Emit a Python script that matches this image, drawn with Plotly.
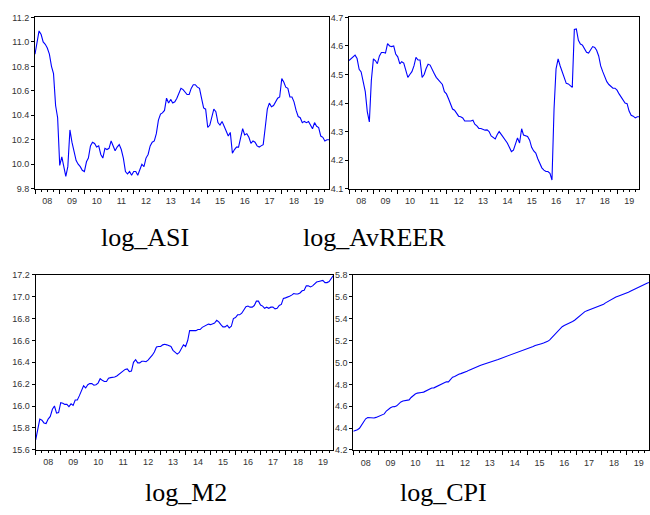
import pandas as pd
import plotly.graph_objects as go

dates = pd.date_range("2008-01-01", "2019-12-01", freq="MS")

log_ASI = [
    10.90, 11.00, 11.09, 11.06, 11.00, 10.98, 10.95, 10.90, 10.80, 10.74, 10.48, 10.38,
    9.99, 10.06, 9.97, 9.90, 9.98, 10.28, 10.18, 10.11, 10.03, 10.00, 9.98, 9.95,
    9.94, 10.02, 10.05, 10.15, 10.18, 10.17, 10.14, 10.15, 10.08, 10.05, 10.13, 10.12,
    10.13, 10.19, 10.15, 10.11, 10.14, 10.16, 10.12, 10.05, 9.94, 9.92, 9.94, 9.91,
    9.94, 9.94, 9.91, 9.96, 10.00, 9.98, 10.05, 10.08, 10.15, 10.18, 10.19, 10.25,
    10.36, 10.41, 10.42, 10.44, 10.54, 10.50, 10.53, 10.50, 10.51, 10.54, 10.58, 10.62,
    10.61, 10.59, 10.57, 10.57, 10.62, 10.65, 10.65, 10.63, 10.62, 10.54, 10.46, 10.45,
    10.30, 10.32, 10.39, 10.45, 10.43, 10.34, 10.32, 10.35, 10.31, 10.27, 10.23, 10.26,
    10.09, 10.12, 10.14, 10.14, 10.22, 10.29, 10.24, 10.25, 10.22, 10.17, 10.19, 10.18,
    10.15, 10.14, 10.15, 10.16, 10.30, 10.45, 10.50, 10.47, 10.48, 10.51, 10.54, 10.55,
    10.70, 10.67, 10.63, 10.62, 10.55, 10.55, 10.51, 10.44, 10.39, 10.38, 10.34, 10.35,
    10.34, 10.35, 10.32, 10.29, 10.34, 10.31, 10.30, 10.23, 10.22, 10.19, 10.20, 10.20,
]

log_AvREER = [
    4.549, 4.555, 4.562, 4.568, 4.556, 4.518, 4.509, 4.476, 4.440, 4.370, 4.334, 4.480,
    4.555, 4.548, 4.538, 4.565, 4.577, 4.577, 4.575, 4.608, 4.600, 4.598, 4.600, 4.572,
    4.562, 4.537, 4.545, 4.540, 4.515, 4.490, 4.500, 4.510, 4.530, 4.560, 4.551, 4.551,
    4.490, 4.500, 4.520, 4.536, 4.533, 4.515, 4.504, 4.490, 4.482, 4.473, 4.465, 4.440,
    4.432, 4.415, 4.400, 4.379, 4.375, 4.366, 4.354, 4.352, 4.348, 4.337, 4.337, 4.337,
    4.337, 4.340, 4.326, 4.320, 4.311, 4.311, 4.308, 4.305, 4.306, 4.300, 4.285, 4.280,
    4.274, 4.290, 4.300, 4.290, 4.280, 4.270, 4.260, 4.245, 4.230, 4.235, 4.255, 4.278,
    4.260, 4.310, 4.288, 4.285, 4.283, 4.270, 4.245, 4.232, 4.225, 4.205, 4.190, 4.173,
    4.165, 4.160, 4.160, 4.154, 4.130, 4.380, 4.520, 4.555, 4.530, 4.510, 4.490, 4.469,
    4.467, 4.460, 4.455, 4.658, 4.660, 4.620, 4.607, 4.603, 4.590, 4.578, 4.575, 4.585,
    4.598, 4.595, 4.585, 4.565, 4.530, 4.510, 4.490, 4.475, 4.465, 4.457, 4.452, 4.452,
    4.445, 4.432, 4.422, 4.410, 4.400, 4.398, 4.372, 4.357, 4.354, 4.348, 4.352, 4.352,
]

log_M2 = [
    15.69, 15.78, 15.88, 15.87, 15.845, 15.84, 15.88, 15.905, 15.97, 16.00, 15.935, 15.94,
    16.03, 16.025, 16.015, 16.015, 15.995, 16.02, 16.005, 16.055, 16.055, 16.095, 16.14, 16.185,
    16.165, 16.195, 16.205, 16.205, 16.19, 16.195, 16.21, 16.25, 16.235, 16.225, 16.225, 16.255,
    16.26, 16.26, 16.265, 16.275, 16.29, 16.305, 16.32, 16.335, 16.34, 16.315, 16.32, 16.40,
    16.425, 16.395, 16.395, 16.41, 16.41, 16.405, 16.42, 16.44, 16.465, 16.495, 16.54, 16.545,
    16.545, 16.56, 16.565, 16.56, 16.555, 16.545, 16.51, 16.49, 16.475, 16.49, 16.52, 16.56,
    16.545, 16.60, 16.69, 16.69, 16.685, 16.69, 16.70, 16.70, 16.72, 16.73, 16.745, 16.75,
    16.745, 16.75, 16.76, 16.785, 16.77, 16.745, 16.725, 16.725, 16.74, 16.715, 16.73, 16.80,
    16.81, 16.835, 16.835, 16.85, 16.88, 16.91, 16.915, 16.905, 16.905, 16.92, 16.96, 16.96,
    16.925, 16.915, 16.895, 16.905, 16.895, 16.905, 16.905, 16.89, 16.895, 16.92, 16.93, 16.985,
    16.99, 16.995, 17.005, 17.015, 17.03, 17.025, 17.025, 17.035, 17.055, 17.06, 17.10, 17.10,
    17.09, 17.10, 17.12, 17.135, 17.14, 17.145, 17.15, 17.13, 17.13, 17.14, 17.165, 17.195,
]

log_CPI = [
    4.371, 4.375, 4.385, 4.398, 4.425, 4.464, 4.485, 4.497, 4.494, 4.489, 4.492, 4.498,
    4.506, 4.514, 4.519, 4.530, 4.556, 4.573, 4.586, 4.595, 4.596, 4.604, 4.625, 4.639,
    4.648, 4.653, 4.655, 4.658, 4.680, 4.697, 4.712, 4.720, 4.720, 4.726, 4.729, 4.738,
    4.750, 4.761, 4.766, 4.768, 4.777, 4.786, 4.793, 4.802, 4.814, 4.823, 4.823, 4.840,
    4.866, 4.872, 4.883, 4.892, 4.898, 4.904, 4.912, 4.920, 4.930, 4.939, 4.949, 4.957,
    4.963, 4.970, 4.977, 4.983, 4.988, 4.993, 4.998, 5.005, 5.013, 5.021, 5.028, 5.035,
    5.042, 5.048, 5.055, 5.062, 5.070, 5.076, 5.081, 5.087, 5.091, 5.098, 5.105, 5.113,
    5.121, 5.128, 5.137, 5.146, 5.155, 5.163, 5.168, 5.172, 5.178, 5.184, 5.193, 5.206,
    5.228, 5.248, 5.270, 5.292, 5.313, 5.327, 5.338, 5.346, 5.355, 5.363, 5.374, 5.386,
    5.402, 5.419, 5.437, 5.453, 5.465, 5.473, 5.480, 5.488, 5.495, 5.503, 5.510, 5.517,
    5.525, 5.533, 5.545, 5.557, 5.570, 5.580, 5.589, 5.598, 5.605, 5.611, 5.617, 5.625,
    5.632, 5.642, 5.651, 5.661, 5.671, 5.682, 5.691, 5.702, 5.710, 5.717, 5.724, 5.731,
]

titles = ["log_ASI", "log_AvREER", "log_M2", "log_CPI"]
series = [log_ASI, log_AvREER, log_M2, log_CPI]
y_ranges = [[9.8, 11.2], [4.1, 4.7], [15.6, 17.2], [4.2, 5.8]]
y_dticks = [0.2, 0.1, 0.2, 0.2]

W, H = 650, 515
# pixel boxes (left, right, top, bottom)
boxes = [(35, 329, 12.7, 187.3), (349, 639.3, 12.7, 187.3),
         (35.7, 333.3, 275.3, 453.5), (353.3, 649, 275.3, 453.8)]
title_pos = [(145, 237), (374, 237), (186, 497), (443, 497)]

fig = go.Figure()
tick_font = dict(family="Arial, Liberation Sans, sans-serif", size=9, color="#333333")
for i in range(4):
    xa = "x" if i == 0 else f"x{i+1}"
    ya = "y" if i == 0 else f"y{i+1}"
    fig.add_trace(go.Scatter(x=dates, y=series[i], mode="lines",
                             line=dict(color="#0000FF", width=1.1),
                             xaxis=xa, yaxis=ya, showlegend=False, hoverinfo="skip"))
    l, r, t, b = boxes[i]
    xkey = "xaxis" if i == 0 else f"xaxis{i+1}"
    ykey = "yaxis" if i == 0 else f"yaxis{i+1}"
    fig.update_layout(**{
        xkey: dict(domain=[l / W, r / W], anchor=ya, type="date",
                   range=["2008-01-01", "2019-12-01"],
                   dtick="M12", tick0="2008-01-01", tickformat="%y",
                   ticklabelmode="period", ticks="outside", ticklen=4, tickwidth=1,
                   tickcolor="black",
                   minor=dict(dtick="M3", tick0="2008-01-01", ticks="outside",
                              ticklen=2, tickcolor="black", showgrid=False),
                   showgrid=False, zeroline=False, showline=True, linecolor="black",
                   linewidth=1, mirror=True, tickfont=tick_font, fixedrange=True),
        ykey: dict(domain=[1 - b / H, 1 - t / H], anchor=xa, range=y_ranges[i],
                   dtick=y_dticks[i], tickformat=".1f", ticks="outside", ticklen=3,
                   tickcolor="black", showgrid=False, zeroline=False, showline=True,
                   linecolor="black", linewidth=1, mirror=True, tickfont=tick_font,
                   fixedrange=True),
    })
    tx, ty = title_pos[i]
    fig.add_annotation(x=tx / W, y=1 - ty / H, xref="paper", yref="paper",
                       text=titles[i], showarrow=False, xanchor="center", yanchor="middle",
                       font=dict(family="Liberation Serif, Times New Roman, serif",
                                 size=26, color="black"))

fig.update_layout(width=W, height=H, margin=dict(l=0, r=0, t=0, b=0),
                  paper_bgcolor="white", plot_bgcolor="white")

fig.write_html("out.html", config={"displayModeBar": False},
               post_script="document.body.style.margin='0';")
